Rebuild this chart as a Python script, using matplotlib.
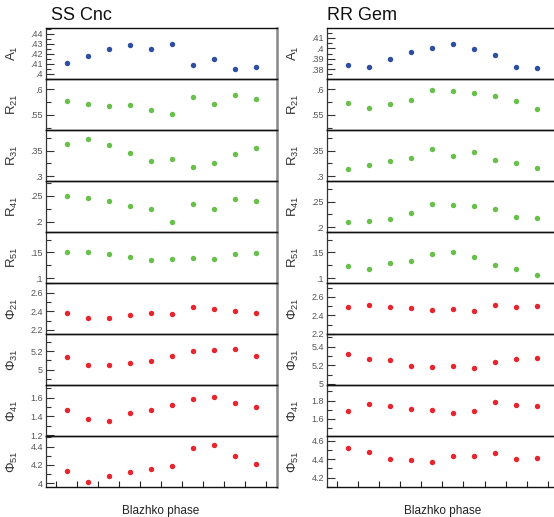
import matplotlib
matplotlib.use("Agg")
import matplotlib.pyplot as plt
from matplotlib.ticker import MultipleLocator, FuncFormatter
import numpy as np

plt.rcParams['font.family'] = ['Liberation Sans', 'DejaVu Sans']
plt.rcParams['mathtext.fontset'] = 'custom'
plt.rcParams['mathtext.rm'] = 'Liberation Sans'
plt.rcParams['mathtext.it'] = 'Liberation Sans:italic'

phase = [0.05, 0.15, 0.25, 0.35, 0.45, 0.55, 0.65, 0.75, 0.85, 0.95]
xticks = [0.0, 0.1, 0.2, 0.3, 0.4, 0.5, 0.6, 0.7, 0.8, 0.9, 1.0]

titles = ["SS Cnc", "RR Gem"]
xlabel = "Blazhko phase"
params = ["A_1", "R_{21}", "R_{31}", "R_{41}", "R_{51}",
          "Φ_{21}", "Φ_{31}", "Φ_{41}", "Φ_{51}"]

# SS Cnc
ss_A1 = [0.411, 0.418, 0.425, 0.429, 0.425, 0.430, 0.4086, 0.415, 0.4047, 0.4066]
ss_R21 = [0.5766, 0.5714, 0.5669, 0.5688, 0.5597, 0.5506, 0.5838, 0.5708, 0.5877, 0.5799]
ss_R31 = [0.3636, 0.3734, 0.3604, 0.3455, 0.3299, 0.3338, 0.3188, 0.3260, 0.3435, 0.3545]
ss_R41 = [0.2506, 0.2461, 0.2396, 0.2305, 0.2240, 0.2000, 0.2344, 0.2240, 0.2435, 0.2409]
ss_R51 = [0.1519, 0.1500, 0.1474, 0.1416, 0.1357, 0.1364, 0.1390, 0.1364, 0.1461, 0.1494]
ss_P21 = [2.386, 2.328, 2.332, 2.364, 2.382, 2.371, 2.443, 2.425, 2.404, 2.386]
ss_P31 = [5.135, 5.052, 5.052, 5.077, 5.092, 5.153, 5.207, 5.218, 5.222, 5.153]
ss_P41 = [1.466, 1.374, 1.352, 1.437, 1.469, 1.519, 1.589, 1.611, 1.547, 1.497]
ss_P51 = [4.132, 4.020, 4.077, 4.121, 4.153, 4.193, 4.380, 4.416, 4.294, 4.207]

# RR Gem
rr_A1 = [0.3836, 0.3826, 0.3894, 0.3963, 0.4005, 0.4044, 0.3995, 0.3937, 0.3826, 0.3816]
rr_R21 = [0.5730, 0.5632, 0.5704, 0.5789, 0.5980, 0.5967, 0.5914, 0.5855, 0.5763, 0.5618]
rr_R31 = [0.3143, 0.3227, 0.3299, 0.3364, 0.3526, 0.3396, 0.3468, 0.3318, 0.3253, 0.3162]
rr_R41 = [0.2092, 0.2125, 0.2164, 0.2276, 0.2454, 0.2428, 0.2414, 0.2349, 0.2204, 0.2184]
rr_R51 = [0.1240, 0.1182, 0.1286, 0.1338, 0.1474, 0.1506, 0.1409, 0.1253, 0.1182, 0.1058]
rr_P21 = [2.491, 2.509, 2.495, 2.476, 2.458, 2.473, 2.447, 2.509, 2.487, 2.498]
rr_P31 = [5.321, 5.268, 5.254, 5.196, 5.186, 5.193, 5.171, 5.239, 5.264, 5.275]
rr_P41 = [1.687, 1.767, 1.742, 1.713, 1.702, 1.669, 1.687, 1.785, 1.753, 1.745]
rr_P51 = [4.523, 4.476, 4.404, 4.389, 4.371, 4.436, 4.432, 4.465, 4.404, 4.411]

ss_data = [ss_A1, ss_R21, ss_R31, ss_R41, ss_R51, ss_P21, ss_P31, ss_P41, ss_P51]
rr_data = [rr_A1, rr_R21, rr_R31, rr_R41, rr_R51, rr_P21, rr_P31, rr_P41, rr_P51]

ss_ylims = [(0.3947, 0.4456), (0.5201, 0.6195), (0.2903, 0.3903), (0.1799, 0.2786),
            (0.0903, 0.1896), (2.153, 2.701), (4.831, 5.384), (1.189, 1.731), (3.957, 4.512)]
rr_ylims = [(0.3706, 0.4195), (0.5201, 0.6195), (0.2903, 0.3903), (0.1901, 0.2908),
            (0.0903, 0.1896), (2.196, 2.749), (4.986, 5.532), (1.411, 1.967), (4.0955, 4.650)]

majors = [0.01, 0.05, 0.05, 0.05, 0.05, 0.2, 0.2, 0.2, 0.2]

blue = "#2c4fa3"
green = "#67c04a"
red = "#e8242c"
colors = [blue, green, green, green, green, red, red, red, red]

W, H = 554, 517
fig = plt.figure(figsize=(W / 100, H / 100), dpi=100)

def fmt(v, pos):
    s = f"{v:.3g}"
    if s.startswith("0."):
        s = s[1:]
    return s

col_left = [45.7, 326.8]
col_width = 231.3
top_px = 28.0
bottom_px = 487.3
n = 9
ph = (bottom_px - top_px) / n

for c, (data, ylims) in enumerate([(ss_data, ss_ylims), (rr_data, rr_ylims)]):
    for i in range(n):
        y0 = top_px + i * ph
        ax = fig.add_axes([col_left[c] / W, 1 - (y0 + ph) / H, col_width / W, ph / H])
        ax.plot(phase, data[i], 'o', color=colors[i], markersize=3.9, markeredgewidth=0)
        ax.set_xlim(-0.05, 1.05)
        ax.set_ylim(*ylims[i])
        ax.yaxis.set_major_locator(MultipleLocator(majors[i]))
        ax.yaxis.set_minor_locator(MultipleLocator(majors[i] / 2))
        ax.yaxis.set_major_formatter(FuncFormatter(fmt))
        ax.tick_params(axis='y', which='major', direction='in', length=6, width=0.8,
                       color='#333333', labelsize=6.5, labelcolor='#555555', pad=2)
        ax.tick_params(axis='y', which='minor', direction='in', length=3.5, width=0.8,
                       color='#333333')
        if i == n - 1:
            ax.set_xticks(xticks)
            ax.tick_params(axis='x', which='major', direction='in', length=4.5, width=0.8,
                           color='#222222', labelbottom=False)
        else:
            ax.set_xticks([])
        for s in ['top', 'bottom']:
            ax.spines[s].set_color('#111111')
            ax.spines[s].set_linewidth(1.0)
        ax.spines['left'].set_color('#333333')
        ax.spines['left'].set_linewidth(0.9)
        ax.spines['right'].set_color('#888888')
        ax.spines['right'].set_linewidth(1.8)
        ax.set_ylabel(r"$\mathregular{" + params[i] + "}$", fontsize=9.5, color='#333333')
        ax.yaxis.set_label_coords(-0.112, 0.5)
        ax.patch.set_alpha(0)

fig.text(51 / W, 1 - 15.5 / H, titles[0], fontsize=13, ha='left', va='center', color='#111111')
fig.text(327 / W, 1 - 15.5 / H, titles[1], fontsize=13, ha='left', va='center', color='#111111')
fig.text(161 / W, 1 - 511 / H, xlabel, fontsize=8.5, ha='center', va='center', color='#222222')
fig.text(442.5 / W, 1 - 511 / H, xlabel, fontsize=8.5, ha='center', va='center', color='#222222')

fig.savefig("out.png", dpi=100)
